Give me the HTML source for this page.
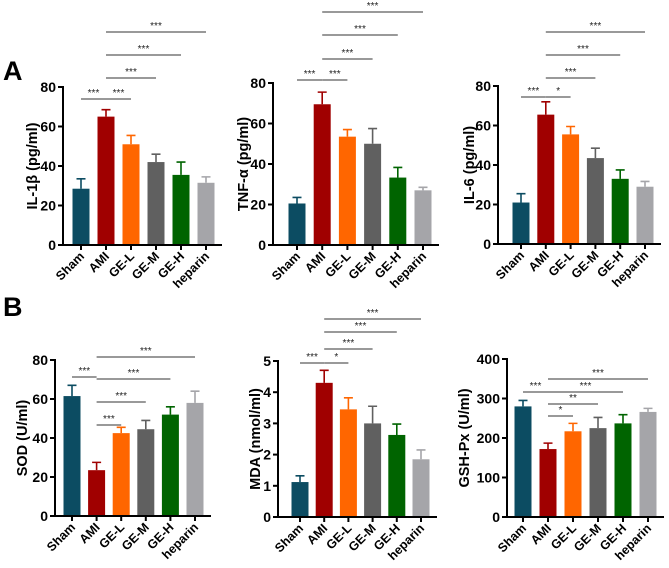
<!DOCTYPE html>
<html><head><meta charset="utf-8"><style>
html,body{margin:0;padding:0;background:#fff;}
svg{display:block;font-family:"Liberation Sans",sans-serif;}
</style></head><body>
<svg id="fig" width="669" height="568" viewBox="0 0 669 568">
<text x="3" y="80" font-size="27" font-weight="bold">A</text>
<text x="3" y="316" font-size="27" font-weight="bold">B</text>
</svg>
<script>
const categories = ["Sham","AMI","GE-L","GE-M","GE-H","heparin"];
const colors = ["#0c4c62","#a00000","#ff6600","#606060","#006400","#a5a5a9"];
const il1bValues = [28.5,65,51,42,35.5,31.5];
const il1bErrors = [5,3.5,4.5,4,6.5,3];
const tnfValues = [20.5,69.5,53.5,50,33.3,27];
const tnfErrors = [3,6,3.5,7.5,5,1.5];
const il6Values = [21,65.5,55.5,43.5,33,29];
const il6Errors = [4.5,6.5,4,5,4.5,2.7];
const sodValues = [61.5,23.5,42.5,44.5,52,58];
const sodErrors = [5.5,4,3,4.5,4,6];
const mdaValues = [1.12,4.3,3.45,3.0,2.63,1.85];
const mdaErrors = [0.2,0.4,0.37,0.55,0.35,0.3];
const gshValues = [280,172,217,225,237,266];
const gshErrors = [15,15,20,27,22,9];
const ticks80 = [0,20,40,60,80];
const ticksMda = [0,1,2,3,4,5];
const ticksGsh = [0,100,200,300,400];
const sigLabelsIl1b = ["***","***","***","***","***"];
const sigLabelsTnf = ["***","***","***","***","***"];
const sigLabelsIl6 = ["***","*","***","***","***"];
const sigLabelsSod = ["***","***","***","***","***"];
const sigLabelsMda = ["***","*","***","***","***"];
const sigLabelsGsh = ["***","*","**","***","***"];

const NS="http://www.w3.org/2000/svg";
const svg=document.getElementById('fig');
function mk(tag,attrs,parent){const e=document.createElementNS(NS,tag);for(const k in attrs)e.setAttribute(k,attrs[k]);(parent||svg).appendChild(e);return e;}

function panel(p){
  const g=mk('g',{});
  
  
  const y=v=>p.y0-(v/p.max)*(p.y0-p.yTop);
  const x=i=>p.x0+i*p.dx;
  const bw=17;
  p.values.forEach((v,i)=>{
    const r=mk('rect',{x:x(i)-bw/2,y:y(v),width:bw,height:p.y0-y(v),fill:colors[i]},g);
    
    
    const top=y(v+p.errors[i]);
    const e=mk('path',{d:`M${x(i)} ${y(v)}V${top}M${x(i)-4.5} ${top}H${x(i)+4.5}`,stroke:colors[i],'stroke-width':1.6,fill:'none'},g);
    
    
  });
  const xEnd=x(5)+16;
  const ax=mk('path',{d:`M${p.ax} ${p.yTop-1}V${p.y0}H${xEnd}`,stroke:'#000','stroke-width':2,fill:'none'},g);
  
  
  p.ticks.forEach(t=>{
    mk('line',{x1:p.ax-5,x2:p.ax,y1:y(t),y2:y(t),stroke:'#000','stroke-width':2},g);
    const tl=mk('text',{x:p.ax-7,y:y(t)+5,'font-size':14,'font-weight':'bold','text-anchor':'end'},g);
    tl.textContent=t;
    
    
  });
  categories.forEach((c,i)=>{
    mk('line',{x1:x(i),x2:x(i),y1:p.y0,y2:p.y0+5,stroke:'#000','stroke-width':2},g);
    const t=mk('text',{x:x(i)+4,y:p.y0+12,'font-size':12.5,'font-weight':'bold','text-anchor':'end',transform:`rotate(-45 ${x(i)+4} ${p.y0+12})`},g);
    t.textContent=c;
    
    
  });
  const yl=mk('text',{x:0,y:0,'font-size':14.5,'font-weight':'bold','text-anchor':'middle','dominant-baseline':'central',transform:`translate(${p.ax-p.ylOff} ${(p.y0+p.yTop)/2}) rotate(-90)`},g);
  yl.textContent=p.ylabel;
  
  
  const pairs=[[0,1],[1,2],[1,3],[1,4],[1,5]];
  pairs.forEach((pr,k)=>{
    const sy=p.sigY[k];
    const l=mk('line',{x1:x(pr[0]),x2:x(pr[1]),y1:sy,y2:sy,stroke:'#333','stroke-width':1},g);
    
    
    const s=mk('text',{x:(x(pr[0])+x(pr[1]))/2,y:sy-3,'font-size':10,'text-anchor':'middle',fill:'#222'},g);
    s.textContent=p.sig[k];
    
    
  });
}
panel({name:'il1b',ax:63,x0:81,dx:25,y0:245,yTop:87,max:80,ticks:ticks80,values:il1bValues,errors:il1bErrors,ylabel:'IL-1β (pg/ml)',ylOff:30,sig:sigLabelsIl1b,sigY:[99,99,78,55,32]});
panel({name:'tnf',ax:273,x0:297,dx:25.2,y0:245,yTop:83,max:80,ticks:ticks80,values:tnfValues,errors:tnfErrors,ylabel:'TNF-α (pg/ml)',ylOff:29,sig:sigLabelsTnf,sigY:[80,80,59,35,12]});
panel({name:'il6',ax:498,x0:521,dx:24.8,y0:244,yTop:86,max:80,ticks:ticks80,values:il6Values,errors:il6Errors,ylabel:'IL-6 (pg/ml)',ylOff:28,sig:sigLabelsIl6,sigY:[97,97,78,55,32]});
panel({name:'sod',ax:55,x0:72,dx:24.6,y0:516,yTop:360,max:80,ticks:ticks80,values:sodValues,errors:sodErrors,ylabel:'SOD (U/ml)',ylOff:32,sig:sigLabelsSod,sigY:[377,425,402,379,357]});
panel({name:'mda',ax:278,x0:300,dx:24.2,y0:517,yTop:361,max:5,ticks:ticksMda,values:mdaValues,errors:mdaErrors,ylabel:'MDA (nmol/ml)',ylOff:22,sig:sigLabelsMda,sigY:[363,363,349,332,319]});
panel({name:'gsh',ax:507,x0:523,dx:25,y0:517,yTop:359,max:400,ticks:ticksGsh,values:gshValues,errors:gshErrors,ylabel:'GSH-Px (U/ml)',ylOff:42,sig:sigLabelsGsh,sigY:[392,416,404,392,379]});
</script>
</body></html>
